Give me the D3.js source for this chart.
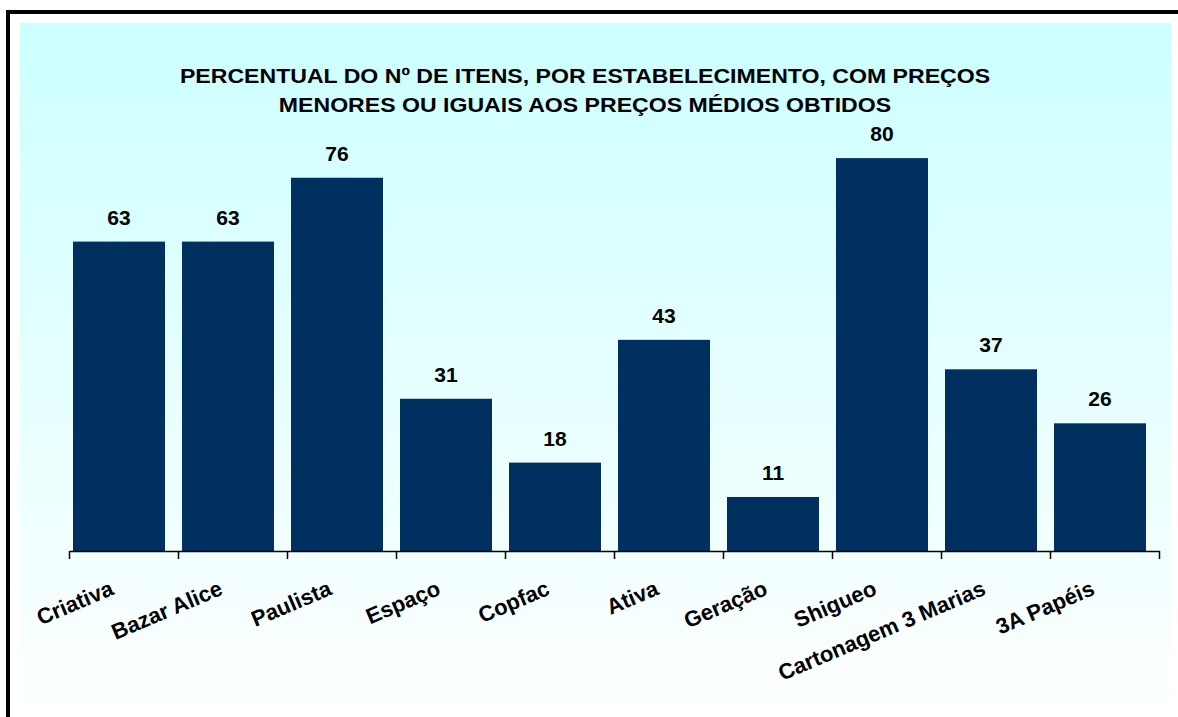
<!DOCTYPE html>
<html>
<head>
<meta charset="utf-8">
<script src="https://cdnjs.cloudflare.com/ajax/libs/d3/7.8.5/d3.min.js"></script>
<style>
  body { margin: 0; background: #ffffff; }
  svg { display: block; font-family: "Liberation Sans", Arial, sans-serif; }
</style>
</head>
<body>
<div id="chart"></div>
<script>
var categories = ['Criativa', 'Bazar Alice', 'Paulista', 'Espaço', 'Copfac', 'Ativa', 'Geração', 'Shigueo', 'Cartonagem 3 Marias', '3A Papéis'];
var values = [63, 63, 76, 31, 18, 43, 11, 80, 37, 26];
var titleLines = ['PERCENTUAL DO Nº DE ITENS, POR ESTABELECIMENTO, COM PREÇOS', 'MENORES OU IGUAIS AOS PREÇOS MÉDIOS OBTIDOS'];

var width = 1178, height = 717;

var svg = d3.select('#chart')
    .append('svg')
    .attr('width', width)
    .attr('height', height);

// background gradient
var defs = svg.append('defs');
var grad = defs.append('linearGradient')
    .attr('id', 'bg')
    .attr('x1', 0).attr('y1', 0)
    .attr('x2', 0).attr('y2', 1);
grad.append('stop').attr('offset', '0%').attr('stop-color', '#ccffff');
grad.append('stop').attr('offset', '100%').attr('stop-color', '#ffffff');

svg.append('rect')
    .attr('x', 20).attr('y', 23)
    .attr('width', 1151).attr('height', 700)
    .attr('fill', 'url(#bg)');

// outer frame
svg.append('rect')
    .attr('x', 8).attr('y', 12)
    .attr('width', 1180).attr('height', 720)
    .attr('fill', 'none')
    .attr('stroke', '#000')
    .attr('stroke-width', 4);

// title (a bit wide, like the original)
svg.append('text')
    .attr('transform', 'translate(585,83) scale(1.1,1)')
    .attr('text-anchor', 'middle')
    .style('font-weight', 'bold')
    .style('font-size', '21px')
    .selectAll('tspan')
    .data(titleLines)
    .enter()
    .append('tspan')
    .attr('x', 0)
    .attr('dy', function (d, i) { return i == 0 ? 0 : 29; })
    .text(function (d) { return d; });

// scales
var x = d3.scaleBand()
    .domain(categories)
    .range([73, 1146])
    .paddingInner(0.156)
    .paddingOuter(0);

var xEdge = d3.scaleLinear()
    .domain([0, categories.length])
    .range([69, 1159]);

var y = d3.scaleLinear()
    .domain([0, 90])
    .range([551, 109]);

// bars
svg.append('g')
    .selectAll('rect')
    .data(values)
    .enter()
    .append('rect')
    .attr('x', function (d, i) { return x(categories[i]); })
    .attr('y', function (d) { return y(d); })
    .attr('width', x.bandwidth())
    .attr('height', function (d) { return y(0) - y(d); })
    .attr('fill', '#003060');

// value labels
svg.append('g')
    .selectAll('text')
    .data(values)
    .enter()
    .append('text')
    .attr('x', function (d, i) { return x(categories[i]) + x.bandwidth() / 2; })
    .attr('y', function (d) { return y(d) - 17; })
    .attr('text-anchor', 'middle')
    .style('font-weight', 'bold')
    .style('font-size', '21px')
    .text(function (d) { return d; });

// x axis with ticks between categories
var xAxis = d3.axisBottom(xEdge)
    .tickValues(d3.range(0, categories.length + 1))
    .tickSize(8)
    .tickSizeOuter(0)
    .tickFormat('');

var axisG = svg.append('g')
    .attr('transform', 'translate(0,551)')
    .call(xAxis);
axisG.select('.domain').attr('stroke', '#000').attr('stroke-width', 1.5);
axisG.selectAll('.tick line').attr('stroke', '#000').attr('stroke-width', 1.5);

// category labels
svg.append('g')
    .selectAll('text')
    .data(categories)
    .enter()
    .append('text')
    .attr('transform', function (d) {
        return 'translate(' + (x(d) + x.bandwidth() / 2 - 4) + ',594) rotate(-23)';
    })
    .attr('text-anchor', 'end')
    .style('font-weight', 'bold')
    .style('font-size', '22px')
    .text(function (d) { return d; });
</script>
</body>
</html>
